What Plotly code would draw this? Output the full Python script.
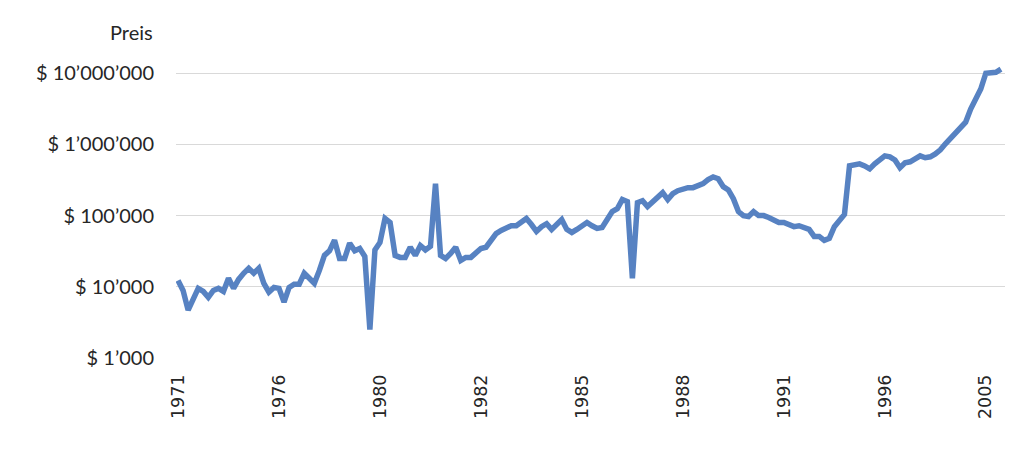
import plotly.graph_objects as go

# x-axis category labels (one label every `label_step` observations)
years = ["1971", "1976", "1980", "1982", "1985", "1988", "1991", "1996", "2005"]
label_step = 20

# Price series (USD)
prices = [
    12300, 8900, 4700, 6900, 9500, 8600, 7100, 8900, 9500, 8600,
    13200, 9500, 12700, 15500, 18200, 15500, 18200, 11200, 8400, 9800,
    9500, 6100, 9800, 10900, 10900, 15500, 13200, 11200, 17000, 27600,
    32000, 45000, 25000, 25000, 41000, 32000, 34500, 26700, 2500, 33000,
    42000, 91000, 80000, 27600, 25900, 25900, 36000, 27600, 38000, 33000,
    37000, 281000, 27600, 25000, 29400, 36000, 23500, 25900, 25900, 30000,
    34500, 36000, 43500, 56000, 62000, 68000, 72000, 72000, 80000, 91000,
    75000, 60000, 70000, 77000, 64000, 75000, 88000, 64000, 58000, 64000,
    70000, 80000, 72000, 66000, 68000, 88000, 114000, 125000, 168000, 157000,
    13200, 152000, 162000, 134000, 157000, 184000, 210000, 168000, 203000, 224000,
    239000, 247000, 247000, 263000, 281000, 320000, 350000, 330000, 255000, 230000,
    173000, 114000, 100000, 97000, 114000, 100000, 100000, 94000, 85000, 80000,
    80000, 75000, 70000, 72000, 68000, 64000, 51000, 51000, 45000, 48000,
    70000, 85000, 104000, 500000, 515000, 533000, 500000, 454000, 533000, 605000,
    690000, 670000, 605000, 470000, 551000, 570000, 627000, 690000, 650000, 670000,
    735000, 840000, 1020000, 1230000, 1450000, 1700000, 2050000, 3140000, 4300000, 6000000,
    10000000, 10300000, 10300000, 11400000,
]

y_tick_vals = [1e3, 1e4, 1e5, 1e6, 1e7]
y_tick_text = ["$ 1’000", "$ 10’000", "$ 100’000", "$ 1’000’000", "$ 10’000’000"]

x_idx = list(range(len(prices)))
x_tick_vals = [i * label_step for i in range(len(years))]

fig = go.Figure()
fig.add_trace(go.Scatter(
    x=x_idx, y=prices, mode="lines",
    line=dict(color="#5782C2", width=5.5),
    showlegend=False, hoverinfo="skip",
))

fig.update_layout(
    width=1008, height=443, autosize=False,
    margin=dict(l=168, r=11, t=50.5, b=92.5),
    paper_bgcolor="white", plot_bgcolor="white",
    xaxis=dict(
        range=[-0.4, 163.8], tickmode="array",
        tickvals=x_tick_vals, ticktext=years, tickangle=-90,
        showgrid=False, zeroline=False, showline=False, ticks="",
        tickfont=dict(family="DejaVu Sans", size=17.5, color="#262626"),
        ticklabelstandoff=12,
    ),
    yaxis=dict(
        type="log", range=[3, 7.2], tickmode="array",
        tickvals=y_tick_vals, ticktext=y_tick_text,
        showgrid=True, gridcolor="#D9D9D9", gridwidth=1.2,
        zeroline=False, showline=False, ticks="",
        tickfont=dict(family="Lato", size=20, color="#262626"),
        ticklabelstandoff=21,
    ),
    annotations=[dict(
        text="Preis", xref="paper", yref="paper",
        x=0, xshift=-21, y=(358.5 - 31) / 300, xanchor="right", yanchor="middle",
        showarrow=False, font=dict(family="Lato", size=20, color="#262626"),
    )],
)

fig.write_html("out.html")
